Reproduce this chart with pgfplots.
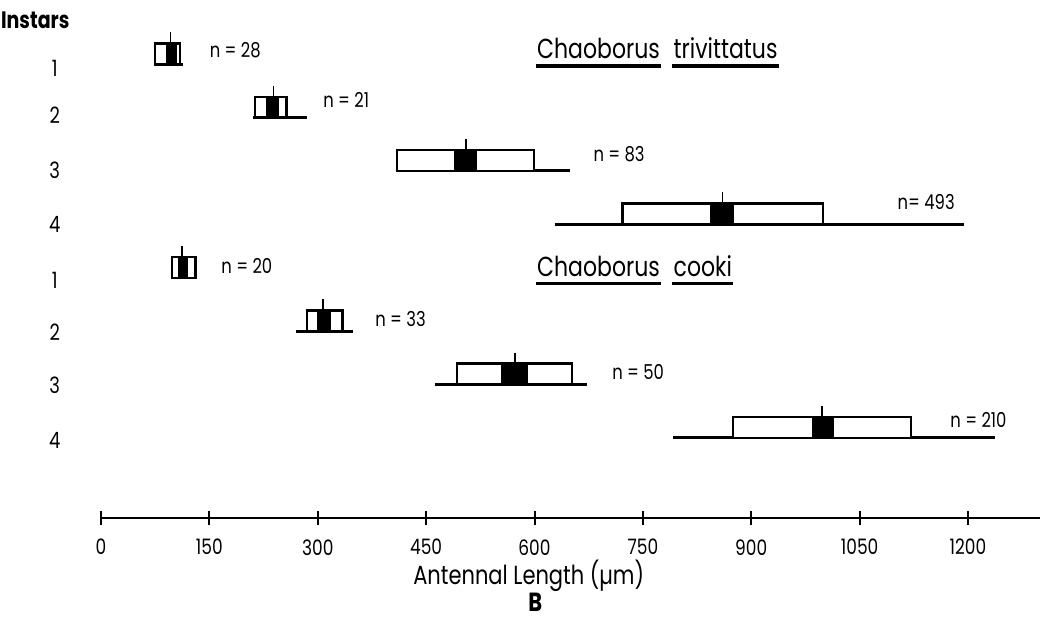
\documentclass[border=0pt]{standalone}
\usepackage{fontspec}
\setmainfont{Poppins}[FakeStretch=0.8]
\usepackage{pgfplots}
\pgfplotsset{compat=1.18}
\newcommand{\ul}[1]{\setbox0\hbox{#1}\rlap{\kern-0.5pt\rule[-3.7pt]{\dimexpr\wd0+1pt\relax}{1.3pt}}\box0}
% row y, range lo, range hi, box lo, box hi, black lo, black hi, mean
\newcommand{\glyph}[8]{%
  \pgfmathsetmacro{\yt}{#1+0.39}%
  \pgfmathsetmacro{\ym}{#1+0.6}%
  \addplot[black, line width=1.2pt] coordinates {(#2,#1) (#3,#1)};
  \addplot[black, line width=1pt, fill=white] coordinates {(#4,#1) (#4,\yt) (#5,\yt) (#5,#1)} -- cycle;
  \addplot[black, line width=0.6pt, fill=black] coordinates {(#6,#1) (#6,\yt) (#7,\yt) (#7,#1)} -- cycle;
  \addplot[black, line width=0.6pt] coordinates {(#8,\yt) (#8,\ym)};
}
\begin{document}
\begin{tikzpicture}
\useasboundingbox (-40.4pt,-40pt) rectangle (376.4pt,207.2pt);
\begin{axis}[
  at={(0,0)}, anchor=south west,
  scale only axis, width=375.7pt, height=198.6pt,
  xmin=0, xmax=1300, ymin=0, ymax=9.3,
  axis x line*=bottom, axis y line=none,
  xtick={0,150,300,450,600,750,900,1050,1200},
  xticklabels={0,150,300,450,600,750,900,1050,1200},
  ytick=\empty,
  tick align=center, major tick length=5.6pt,
  axis line style={line width=0.8pt},
  xtick style={line width=0.8pt, black},
  xticklabel style={font=\fontsize{8.5}{10}\selectfont},
  xticklabel shift=2.2pt,
  clip=false,
]
% Chaoborus trivittatus
\glyph{8.5}{73}{113}{75}{109}{91}{104}{96}
\glyph{7.5}{210}{285}{213}{257}{230}{245}{239}
\glyph{6.5}{410}{649}{410}{599}{490}{520}{505}
\glyph{5.5}{628}{1194}{722}{999}{844}{875}{860}
% Chaoborus cooki
\glyph{4.5}{97}{133}{98}{131}{107}{120}{112}
\glyph{3.5}{270}{349}{285}{334}{300}{317}{307}
\glyph{2.5}{462}{673}{493}{652}{555}{590}{573}
\glyph{1.5}{792}{1237}{875}{1121}{985}{1013}{998}

\begin{scope}[every node/.style={inner sep=0pt, font=\fontsize{8.2}{9}\selectfont}]
\node[anchor=west] at (axis cs:150,8.76) {n = 28};
\node[anchor=west] at (axis cs:307,7.83) {n = 21};
\node[anchor=west] at (axis cs:681,6.82) {n = 83};
\node[anchor=west] at (axis cs:1102,5.92) {n= 493};
\node[anchor=west] at (axis cs:166,4.72) {n = 20};
\node[anchor=west] at (axis cs:379,3.73) {n = 33};
\node[anchor=west] at (axis cs:707,2.73) {n = 50};
\node[anchor=west] at (axis cs:1175,1.84) {n = 210};
\end{scope}

\begin{scope}[every node/.style={inner sep=0pt, font=\fontsize{9}{10}\selectfont}]
\node at (axis cs:-64,8.43) {1};
\node at (axis cs:-64,7.55) {2};
\node at (axis cs:-64,6.52) {3};
\node at (axis cs:-64,5.49) {4};
\node at (axis cs:-64,4.46) {1};
\node at (axis cs:-64,3.48) {2};
\node at (axis cs:-64,2.49) {3};
\node at (axis cs:-64,1.46) {4};
\end{scope}

\node[inner sep=0pt, anchor=west, font=\fontsize{9.5}{11}\bfseries] at (axis cs:-139,9.33) {Instars};

\node[inner sep=0pt, anchor=base west, font=\fontsize{11}{13}\selectfont] at (axis cs:603,8.61) {\ul{Chaoborus}\hspace{0.5em}\ul{trivittatus}};
\node[inner sep=0pt, anchor=base west, font=\fontsize{11}{13}\selectfont] at (axis cs:603,4.53) {\ul{Chaoborus}\hspace{0.5em}\ul{cooki}};

\node[inner sep=0pt, font=\fontsize{10.5}{12}\selectfont] at (axis cs:592,-1.09) {Antennal Length (µm)};
\node[inner sep=0pt, font=\fontsize{10.5}{12}\bfseries] at (axis cs:601,-1.57) {B};
\end{axis}
\end{tikzpicture}
\end{document}
